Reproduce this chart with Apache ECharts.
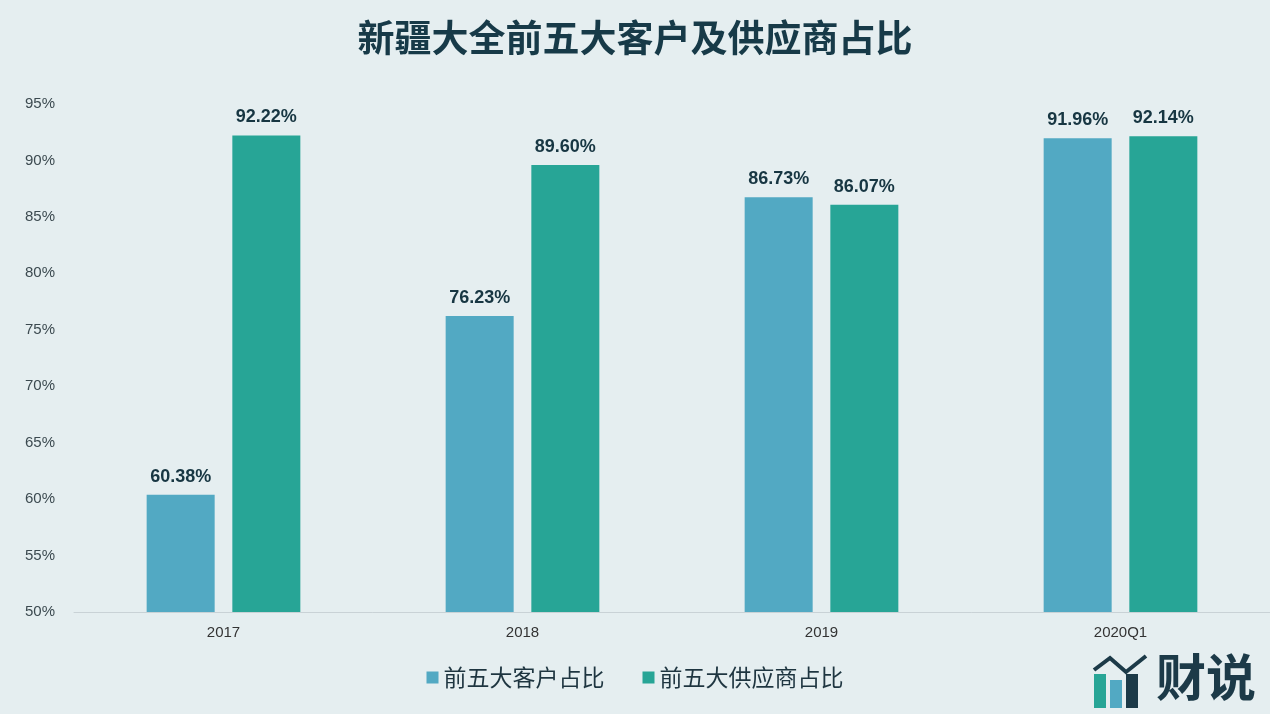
<!DOCTYPE html>
<html><head><meta charset="utf-8">
<script src="https://cdn.jsdelivr.net/npm/echarts@6/dist/echarts.min.js"></script>
<style>html,body{margin:0;padding:0;background:#e5eef0;}#c{width:1270px;height:714px;}</style>
</head><body><div id="c"></div>
<script>
const categories = ['2017', '2018', '2019', '2020Q1'];
const customers = [60.38, 76.23, 86.73, 91.96];
const suppliers = [92.22, 89.60, 86.07, 92.14];
const seriesNames = ['前五大客户占比', '前五大供应商占比'];
const title = '新疆大全前五大客户及供应商占比';

const chart = echarts.init(document.getElementById('c'));
const lbl = {show:true, position:'top', distance:9, color:'#173642', fontSize:18, fontWeight:'bold',
  fontFamily:'Liberation Sans, Arial, sans-serif', formatter: p => p.value.toFixed(2) + '%'};
chart.setOption({
  backgroundColor:'#e5eef0',
  title:{text:title, left:'center', top:14, textStyle:{fontSize:37, fontWeight:'bold', color:'#173a48', fontFamily:'Noto Sans CJK SC'}},
  legend:{bottom:20, left:'center', itemWidth:12, itemHeight:12, itemGap:38, icon:'rect',
    textStyle:{fontSize:23, color:'#1e3540', fontFamily:'Noto Sans CJK SC'}},
  grid:{left:74, right:0, top:104, bottom:102},
  xAxis:{type:'category', data:categories, axisTick:{show:false},
    axisLine:{lineStyle:{color:'#c9d2d6'}},
    axisLabel:{fontSize:15, color:'#333', margin:13, fontFamily:'Liberation Sans'}},
  yAxis:{type:'value', min:50, max:95, interval:5, splitLine:{show:false},
    axisLabel:{formatter:'{value}%', fontSize:15, color:'#3c4a50', margin:19, fontFamily:'Liberation Sans'}},
  series:[
    {name:seriesNames[0], type:'bar', data:customers, barWidth:68, barGap:'26%', itemStyle:{color:'#52a9c3'}, label:lbl},
    {name:seriesNames[1], type:'bar', data:suppliers, barWidth:68, barGap:'26%', itemStyle:{color:'#27a596'}, label:lbl}
  ],
  graphic:[
    {type:'group', right:14, bottom:6, children:[
      {type:'rect', shape:{x:0,y:24,width:12,height:34}, style:{fill:'#27a596'}},
      {type:'rect', shape:{x:16,y:30,width:12,height:28}, style:{fill:'#52a9c3'}},
      {type:'rect', shape:{x:32,y:24,width:12,height:34}, style:{fill:'#1c3a48'}},
      {type:'polyline', shape:{points:[[0,20],[16,8],[32,22],[52,6]]}, style:{stroke:'#1c3a48', lineWidth:4, fill:null}},
      {type:'text', x:62, y:2, style:{text:'财说', fontSize:50, fontWeight:'bold', fill:'#1c3a48', fontFamily:'Noto Sans CJK SC'}}
    ]}
  ]
});
</script></body></html>
